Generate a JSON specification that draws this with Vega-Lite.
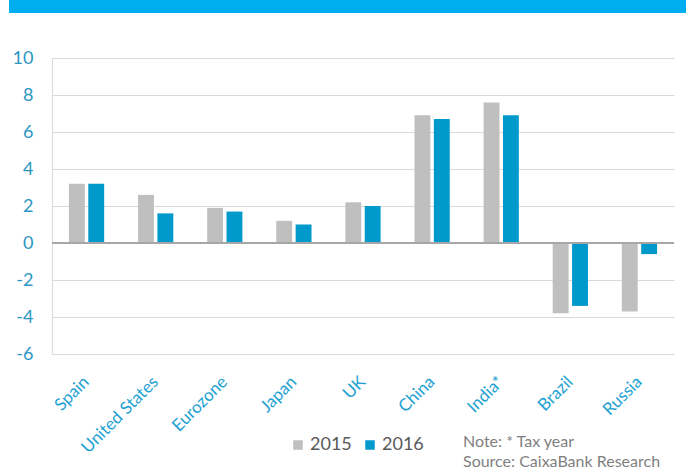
{
  "$schema": "https://vega.github.io/schema/vega-lite/v6.json",
  "padding": {"left": 9, "top": 0, "right": 5, "bottom": 0},
  "background": "white",
  "spacing": 36,
  "config": {
    "font": "Lato",
    "view": {"stroke": null}
  },
  "datasets": {
    "gdp": [
      {"country": "Spain", "year": "2015", "value": 3.2},
      {"country": "Spain", "year": "2016", "value": 3.2},
      {"country": "United States", "year": "2015", "value": 2.6},
      {"country": "United States", "year": "2016", "value": 1.6},
      {"country": "Eurozone", "year": "2015", "value": 1.9},
      {"country": "Eurozone", "year": "2016", "value": 1.7},
      {"country": "Japan", "year": "2015", "value": 1.2},
      {"country": "Japan", "year": "2016", "value": 1.0},
      {"country": "UK", "year": "2015", "value": 2.2},
      {"country": "UK", "year": "2016", "value": 2.0},
      {"country": "China", "year": "2015", "value": 6.9},
      {"country": "China", "year": "2016", "value": 6.7},
      {"country": "India*", "year": "2015", "value": 7.6},
      {"country": "India*", "year": "2016", "value": 6.9},
      {"country": "Brazil", "year": "2015", "value": -3.8},
      {"country": "Brazil", "year": "2016", "value": -3.4},
      {"country": "Russia", "year": "2015", "value": -3.7},
      {"country": "Russia", "year": "2016", "value": -0.6}
    ]
  },
  "vconcat": [
    {
      "width": 677,
      "height": 13,
      "view": {"fill": "#00aeef", "stroke": null},
      "data": {"values": []},
      "mark": "point"
    },
    {
      "spacing": 17,
      "hconcat": [
        {
          "width": 4,
          "height": 296,
          "data": {"name": "gdp"},
          "mark": {"type": "tick", "opacity": 0},
          "encoding": {
            "y": {
              "field": "value",
              "type": "quantitative",
              "scale": {"domain": [-6, 10], "nice": false},
              "axis": {
                "orient": "right",
                "title": null,
                "values": [-6, -4, -2, 0, 2, 4, 6, 8, 10],
                "labelExpr": "datum.value < 0 ? '-' + abs(datum.value) : '' + datum.value",
                "labelOverlap": false,
                "labelAlign": "right",
                "labelFontSize": 18,
                "labelColor": "#2c97c2",
                "labelFont": "Lato",
                "labelPadding": 20,
                "ticks": false,
                "tickSize": 0,
                "domain": false,
                "grid": false
              }
            }
          }
        },
        {
          "width": 622,
          "height": 296,
          "data": {"name": "gdp"},
          "title": {
            "text": ["Note: * Tax year", "Source: CaixaBank Research"],
            "orient": "bottom",
            "anchor": "end",
            "align": "left",
            "frame": "group",
            "dx": -211,
            "offset": -22,
            "font": "Lato",
            "fontSize": 16,
            "fontWeight": "normal",
            "color": "#7f7f7f",
            "lineHeight": 20
          },
          "encoding": {
            "y": {
              "field": "value",
              "type": "quantitative",
              "scale": {"domain": [-6, 10], "nice": false},
              "axis": {
                "title": null,
                "values": [-6, -4, -2, 0, 2, 4, 6, 8, 10],
                "labels": false,
                "ticks": false,
                "tickSize": 0,
                "domain": true,
                "domainColor": "#d9d9d9",
                "grid": true,
                "gridColor": "#d9d9d9",
                "gridWidth": 1
              }
            }
          },
          "layer": [
            {
              "mark": {"type": "bar"},
              "encoding": {
                "x": {
                  "field": "country",
                  "type": "nominal",
                  "sort": null,
                  "scale": {"paddingInner": 0.49, "paddingOuter": 0.245},
                  "axis": {
                    "title": null,
                    "labelAngle": -45,
                    "labelAlign": "right",
                    "labelBaseline": "middle",
                    "labelPadding": 25,
                    "labelFontSize": 17,
                    "labelColor": "#1ea1d2",
                    "labelFont": "Lato",
                    "labelOverlap": false,
                    "domain": false,
                    "ticks": false,
                    "tickSize": 0,
                    "grid": false
                  }
                },
                "xOffset": {
                  "field": "year",
                  "type": "nominal",
                  "scale": {"paddingInner": 0.18}
                },
                "color": {
                  "field": "year",
                  "type": "nominal",
                  "scale": {"domain": ["2015", "2016"], "range": ["#bfbfbf", "#0099cc"]},
                  "legend": {
                    "title": null,
                    "orient": "none",
                    "direction": "horizontal",
                    "legendX": 280,
                    "legendY": 436,
                    "symbolType": "square",
                    "symbolSize": 90,
                    "symbolStrokeWidth": 0,
                    "labelFontSize": 18,
                    "labelColor": "#595959",
                    "labelFont": "Lato",
                    "labelOffset": 3,
                    "columnPadding": 9
                  }
                }
              }
            },
            {
              "mark": {"type": "rule", "color": "#a6a6a6", "strokeWidth": 1},
              "encoding": {"y": {"datum": 0}}
            }
          ]
        }
      ]
    }
  ]
}
